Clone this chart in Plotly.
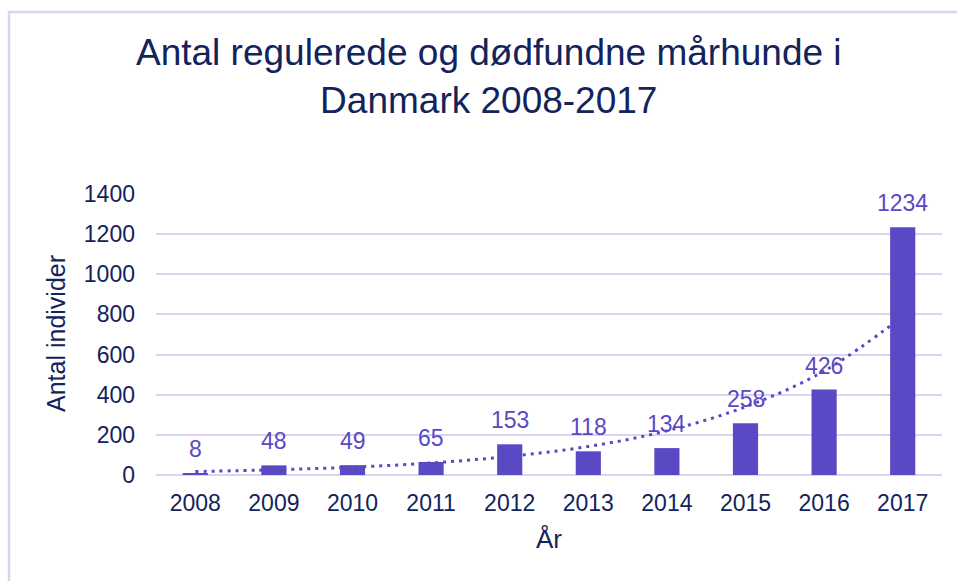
import plotly.graph_objects as go

years = ["2008", "2009", "2010", "2011", "2012", "2013", "2014", "2015", "2016", "2017"]
counts = [8, 48, 49, 65, 153, 118, 134, 258, 426, 1234]
trend = [17, 26, 39, 60, 93, 142, 220, 340, 518, 790]
y_ticks = [0, 200, 400, 600, 800, 1000, 1200, 1400]

title_text = "Antal regulerede og dødfundne mårhunde i<br>Danmark 2008-2017"
x_title = "År"
y_title = "Antal individer"

NAVY = "#13235B"
PURPLE = "#5A49C4"
GRID = "#D9D5F0"
FONT = "Arial, Liberation Sans, sans-serif"

W, H = 957, 581
L, R, T, B = 156, 15, 194, 106
pw, ph = W - L - R, H - T - B


def px_x(x):
    return (x - L) / pw


def px_y(y):
    return (H - B - y) / ph


fig = go.Figure()
fig.add_trace(go.Bar(
    x=years, y=counts, marker=dict(color=PURPLE, line=dict(width=0)),
    hoverinfo="x+y", showlegend=False,
))
fig.add_trace(go.Scatter(
    x=years, y=trend, mode="lines", line=dict(color=PURPLE, width=3, dash="3px,5px", shape="spline"),
    hoverinfo="skip", showlegend=False,
))

annotations = []
for i, v in enumerate(counts):
    annotations.append(dict(
        x=i, y=v, xref="x", yref="y", text=str(v), showarrow=False,
        yanchor="bottom", yshift=9, font=dict(family=FONT, size=23, color=PURPLE),
    ))

annotations.append(dict(
    x=px_x(489), y=px_y(30), xref="paper", yref="paper", text=title_text,
    showarrow=False, yanchor="top", xanchor="center", align="center",
    font=dict(family=FONT, size=37, color=NAVY),
))
annotations.append(dict(
    x=0.5, y=px_y(539), xref="paper", yref="paper", text=x_title,
    showarrow=False, yanchor="middle", xanchor="center",
    font=dict(family=FONT, size=26, color=NAVY),
))
annotations.append(dict(
    x=px_x(56), y=px_y(334), xref="paper", yref="paper", text=y_title, textangle=-90,
    showarrow=False, yanchor="middle", xanchor="center",
    font=dict(family=FONT, size=25, color=NAVY),
))

shapes = [dict(
    type="rect", xref="paper", yref="paper",
    x0=px_x(9), x1=px_x(990), y0=px_y(620), y1=px_y(12),
    line=dict(color=GRID, width=2.5), fillcolor="rgba(0,0,0,0)", layer="below",
)]

fig.update_layout(
    width=W, height=H,
    margin=dict(l=L, r=R, t=T, b=B, pad=0),
    paper_bgcolor="white", plot_bgcolor="white",
    bargap=0.68,
    font=dict(family=FONT, size=23, color=NAVY),
    annotations=annotations,
    shapes=shapes,
    xaxis=dict(
        type="category", showgrid=False, showline=False, zeroline=False,
        ticks="", ticklabelstandoff=12, tickfont=dict(size=23, color=NAVY),
        range=[-0.5, 9.5],
    ),
    yaxis=dict(
        range=[0, 1400], tickvals=y_ticks, ticktext=[str(t) for t in y_ticks],
        showgrid=True, gridcolor=GRID, gridwidth=2, zeroline=True, zerolinecolor=GRID,
        zerolinewidth=2, showline=False, ticks="", ticklabelstandoff=20,
        tickfont=dict(size=23, color=NAVY),
    ),
)

fig.write_html(
    "out.html",
    config={"displayModeBar": False},
    post_script="document.body.style.margin='0';document.body.style.overflow='hidden';",
)
